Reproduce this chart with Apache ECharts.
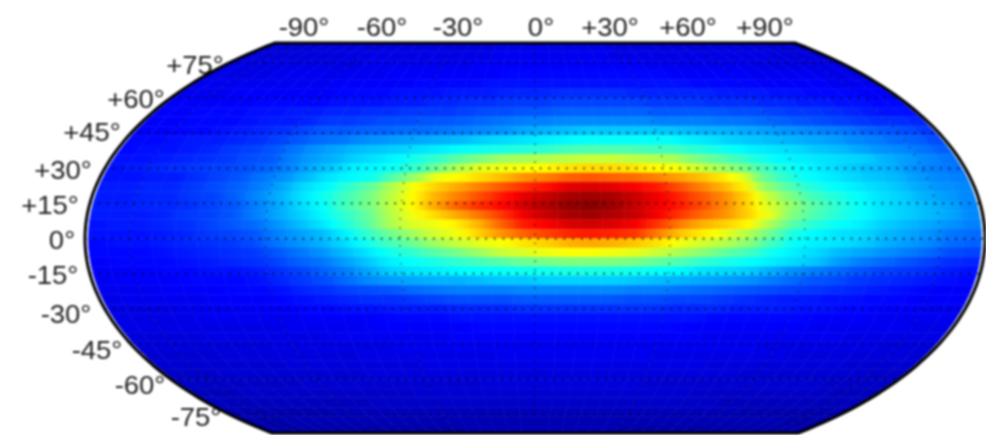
<!DOCTYPE html>
<html>
<head>
<meta charset="utf-8">
<script src="https://cdn.jsdelivr.net/npm/echarts@6/dist/echarts.min.js"></script>
<style>
html,body{margin:0;padding:0;background:#fff}
#c{width:986px;height:435px;filter:blur(0.8px)}
</style>
</head>
<body>
<div id="c"></div>
<script>
const longitudes = [-195,-185,-175,-165,-155,-145,-135,-125,-115,-105,-95,-85,-75,-65,-55,-45,-35,-25,-15,-5,5,15,25,35,45,55,65,75,85,95,105,115,125,135,145,155,165,175,185,195];
const latitudes = [82,78,74,70,66,62,58,54,50,46,42,38,34,30,26,22,18,14,10,6,2,-2,-6,-10,-14,-18,-22,-26,-30,-34,-38,-42,-46,-50,-54,-58,-62,-66,-70,-74,-78,-82];
const n82 = [8,8,8,8,9,9,9,9,9,9,9,9,9,9,9,9,9,10,10,10,10,10,10,10,10,10,9,9,9,9,9,9,9,9,9,9,9,9,8,8];
const n78 = [9,9,9,9,9,9,9,10,10,10,10,10,10,10,10,10,10,11,11,11,11,11,11,11,11,10,10,10,10,10,10,10,10,10,10,10,9,9,9,9];
const n74 = [10,10,10,10,10,10,10,10,10,11,11,11,11,11,11,11,12,12,12,12,12,12,12,12,12,12,12,11,11,11,11,11,11,11,10,10,10,10,10,10];
const n70 = [10,10,10,10,11,11,11,11,11,11,11,12,12,12,12,12,12,12,13,13,13,13,13,13,13,13,13,13,12,12,12,12,12,11,11,11,11,11,10,10];
const n66 = [11,11,11,11,11,11,11,11,12,12,12,12,12,13,13,13,13,14,14,14,14,14,14,14,14,14,14,14,14,13,13,13,13,12,12,12,12,11,11,11];
const n62 = [11,11,11,12,12,12,12,12,12,13,13,13,14,14,14,15,15,15,16,16,16,17,17,17,17,16,16,16,16,16,15,15,15,14,14,13,13,13,12,12];
const n58 = [12,12,12,12,12,13,13,13,13,14,14,14,15,15,16,16,17,17,18,18,18,19,19,19,19,19,18,18,18,17,17,17,16,16,15,15,14,14,13,13];
const n54 = [12,12,13,13,13,14,14,15,15,16,16,17,17,18,18,18,19,20,20,21,21,22,22,22,22,22,21,21,21,21,20,20,19,18,18,17,16,15,14,14];
const n50 = [12,12,13,13,13,14,15,15,16,18,18,19,20,20,21,21,22,23,24,25,25,26,26,26,26,26,25,25,25,24,24,23,22,21,20,19,18,17,17,16];
const n46 = [12,12,13,13,14,15,16,17,19,21,21,22,22,23,23,24,25,26,27,29,30,31,32,32,32,32,32,31,30,30,29,28,27,26,25,24,22,21,20,18];
const n42 = [13,13,14,15,15,16,17,19,21,23,24,26,27,28,29,30,31,33,34,35,36,37,38,38,38,38,38,36,35,33,32,31,30,29,28,26,25,23,22,20];
const n38 = [13,14,14,15,16,18,19,21,24,27,29,31,32,33,35,36,38,39,40,41,42,44,45,45,45,44,44,42,40,38,36,35,34,32,31,29,27,26,24,22];
const n34 = [14,14,15,16,17,18,20,21,25,28,30,33,35,37,40,43,47,50,53,54,55,56,57,57,56,55,54,50,47,44,40,37,36,35,34,33,30,28,26,24];
const n30 = [14,15,16,17,18,19,20,22,25,29,32,36,37,39,43,49,55,60,61,62,63,65,66,66,65,63,62,58,54,50,45,40,37,35,33,31,30,27,25,24];
const n26 = [14,14,15,15,17,19,21,24,27,31,35,37,39,46,53,61,63,66,69,73,75,78,79,78,77,75,72,69,65,60,48,42,38,36,34,32,31,28,26,25];
const n22 = [15,15,16,16,18,20,22,25,29,34,37,42,47,55,62,67,71,75,79,83,86,90,91,90,88,85,80,75,70,64,52,46,41,38,36,34,32,29,27,26];
const n18 = [15,15,16,16,18,19,22,26,30,35,39,44,49,56,63,70,75,80,85,90,93,96,97,96,93,89,84,79,74,67,57,50,44,41,38,35,33,30,28,26];
const n14 = [15,15,16,16,17,19,21,25,29,34,38,44,49,56,63,71,78,83,87,92,95,98,99,97,93,89,85,80,74,67,59,52,46,42,38,35,33,31,29,26];
const n10 = [15,15,15,16,18,19,21,25,29,33,37,42,47,55,61,66,71,76,82,89,93,96,97,95,93,88,82,77,73,67,60,50,45,41,38,35,33,31,29,26];
const n6 = [14,15,15,16,17,19,21,23,27,31,35,40,46,54,59,61,64,70,78,85,88,91,92,91,88,82,75,70,67,63,54,46,41,38,36,33,31,29,27,25];
const n2 = [14,14,14,15,16,18,19,21,25,28,31,36,42,48,53,58,61,67,73,78,81,84,85,84,82,75,68,64,60,55,48,40,37,35,34,31,29,27,24,23];
const s2 = [13,14,14,15,16,17,18,20,24,27,30,34,39,44,48,53,57,60,62,65,67,70,71,70,68,65,61,58,55,51,44,38,36,35,33,30,28,26,23,22];
const s6 = [13,13,13,14,15,16,17,18,21,24,27,31,35,39,42,46,49,53,57,59,61,62,62,61,60,57,54,51,47,44,39,36,34,31,29,27,25,23,20,19];
const s10 = [12,13,13,13,14,15,16,17,19,22,24,28,32,36,38,40,42,44,46,48,49,50,50,50,49,47,45,42,40,38,36,34,32,28,25,23,21,19,17,16];
const s14 = [12,12,12,13,13,14,14,15,17,19,22,25,29,33,35,36,37,38,38,39,39,40,40,40,39,38,37,35,34,33,30,27,25,23,21,19,18,17,15,14];
const s18 = [11,12,12,12,13,13,13,14,16,18,20,23,26,28,29,30,30,31,32,32,33,33,33,33,32,31,30,29,28,27,25,23,21,20,18,17,16,15,14,13];
const s22 = [11,11,11,12,12,12,13,13,14,16,17,19,20,21,23,24,25,25,25,26,26,26,26,26,25,25,24,23,22,21,20,19,18,17,16,15,14,13,12,12];
const s26 = [10,11,11,11,11,12,12,12,13,14,15,16,17,17,18,19,20,20,20,21,21,21,21,21,20,20,19,19,18,17,16,15,15,14,14,13,13,12,12,12];
const s30 = [10,10,10,11,11,11,12,12,12,13,13,14,14,15,15,15,16,16,16,17,17,17,17,17,17,17,16,16,16,15,15,15,14,14,13,13,12,12,11,11];
const s34 = [10,10,10,10,11,11,11,11,11,12,12,12,12,13,13,13,14,14,14,14,14,14,14,14,14,14,14,14,13,13,13,13,13,12,12,12,11,11,11,11];
const s38 = [10,10,10,10,10,10,10,10,11,11,11,11,12,12,12,12,12,13,13,13,13,13,13,13,13,13,13,12,12,12,12,12,12,11,11,11,11,11,10,10];
const s42 = [9,9,9,9,10,10,10,10,10,10,11,11,11,11,11,11,12,12,12,12,12,12,12,12,12,12,12,12,11,11,11,11,11,11,11,10,10,10,10,10];
const s46 = [9,9,9,9,9,9,9,10,10,10,10,10,10,11,11,11,11,11,11,11,11,11,11,11,11,11,11,11,11,11,11,10,10,10,10,10,10,9,9,9];
const s50 = [8,8,8,8,9,9,9,9,9,9,9,10,10,10,10,10,10,10,11,11,11,11,11,11,11,11,10,10,10,10,10,10,10,9,9,9,9,9,9,8];
const s54 = [8,8,8,8,8,8,8,9,9,9,9,9,9,9,10,10,10,10,10,10,10,10,10,10,10,10,10,10,10,9,9,9,9,9,9,9,8,8,8,8];
const s58 = [7,7,7,8,8,8,8,8,8,8,8,9,9,9,9,9,9,9,9,9,9,9,9,9,9,9,9,9,9,9,9,8,8,8,8,8,8,8,7,7];
const s62 = [7,7,7,7,7,7,7,8,8,8,8,8,8,8,8,8,8,9,9,9,9,9,9,9,9,9,8,8,8,8,8,8,8,8,8,8,7,7,7,7];
const s66 = [6,6,6,7,7,7,7,7,7,7,7,7,7,8,8,8,8,8,8,8,8,8,8,8,8,8,8,8,8,7,7,7,7,7,7,7,7,6,6,6];
const s70 = [6,6,6,6,6,6,6,6,6,6,7,7,7,7,7,7,7,7,7,7,7,7,7,7,7,7,7,7,7,7,7,6,6,6,6,6,6,6,6,6];
const s74 = [5,5,5,5,5,5,5,6,6,6,6,6,6,6,6,6,6,6,6,6,6,6,6,6,6,6,6,6,6,6,6,6,6,5,5,5,5,5,5,5];
const s78 = [4,4,4,5,5,5,5,5,5,5,5,5,5,5,5,5,5,5,5,5,5,5,5,5,5,5,5,5,5,5,5,5,5,5,5,5,5,4,4,4];
const s82 = [4,4,4,4,4,4,4,4,4,4,4,4,4,4,4,5,5,5,5,5,5,5,5,5,5,5,4,4,4,4,4,4,4,4,4,4,4,4,4,4];
const rows = [n82,n78,n74,n70,n66,n62,n58,n54,n50,n46,n42,n38,n34,n30,n26,n22,n18,n14,n10,n6,n2,s2,s6,s10,s14,s18,s22,s26,s30,s34,s38,s42,s46,s50,s54,s58,s62,s66,s70,s74,s78,s82];
const meridians = [-180,-120,-60,0,60,120,180];
const parallels = [75,60,45,30,15,0,-15,-30,-45,-60,-75];
const topTicks = ['-90°','-60°','-30°','0°','+30°','+60°','+90°'];
const sideTicks = ['+75°','+60°','+45°','+30°','+15°','0°','-15°','-30°','-45°','-60°','-75°'];

const topPos = [[304,29],[382,29],[458,29],[541,29],[610,29],[688,29],[765,29]];
const sidePos = [[195,67],[136,101],[92,134],[63,172],[50,207],[62,242],[53,277],[66,316],[97,352],[140,387],[196,419]];
const jet = [[0,0,127],[0,0,255],[0,127,255],[0,255,255],[127,255,127],[255,255,0],[255,127,0],[255,0,0],[127,0,0]];
const LAT_TOP = 83.5, LAT_BOT = -83, LON_EDGE = 200;
const shrink = lat => Math.sqrt(1 - (lat / 102.3) * (lat / 102.3));
const clampLat = lat => Math.max(LAT_BOT, Math.min(LAT_TOP, lat));
const project = (lon, lat) => [lon * shrink(lat), lat];
const latRun = (a, b) => { const o = []; for (let la = a; la <= b; la += 1.5) o.push(la); o.push(b); return o; };
const jetColor = v => {
  const t = Math.max(0, Math.min(0.9999, v / 100)) * (jet.length - 1);
  const i = Math.floor(t), f = t - i;
  const c = jet[i].map((x, k) => Math.round(x + (jet[i + 1][k] - x) * f));
  return 'rgb(' + c.join(',') + ')';
};

const cells = [];
rows.forEach((r, i) => r.forEach((v, j) => cells.push([longitudes[j], latitudes[i], v, i, j])));

function renderCell(params, api) {
  const lon = api.value(0), lat = api.value(1), v = api.value(2), ri = api.value(3), ci = api.value(4);
  const a = clampLat(lat - 2), b = clampLat(lat + 2);
  const l = Math.max(lon - 5, -198.5), r = Math.min(lon + 5, 198.5);
  const pts = [project(l, a), project(r, a), project(r, b), project(l, b)].map(p => api.coord(p));
  const row = rows[ri];
  const vl = ci > 0 ? (v + row[ci - 1]) / 2 : v;
  const vr = ci < row.length - 1 ? (v + row[ci + 1]) / 2 : v;
  const fill = { type: 'linear', x: 0, y: 0, x2: 1, y2: 0, colorStops: [
    { offset: 0, color: jetColor(vl) }, { offset: 0.5, color: jetColor(v) }, { offset: 1, color: jetColor(vr) } ] };
  return { type: 'polygon', shape: { points: pts }, style: { fill: fill, stroke: fill, lineWidth: 0.6 } };
}
function renderGraticule(params, api) {
  const kind = api.value(0), val = api.value(1);
  const pts = kind === 0
    ? [project(-LON_EDGE, val), project(LON_EDGE, val)].map(p => api.coord(p))
    : latRun(LAT_BOT, LAT_TOP).map(la => api.coord(project(val, la)));
  return { type: 'polyline', shape: { points: pts }, style: { fill: 'none', stroke: '#000',
    lineWidth: kind === 0 ? 1.7 : 1.4, lineDash: kind === 0 ? [1.7, 7] : [1.4, 7.6], opacity: kind === 0 ? 0.85 : 0.65 } };
}
function renderOutline(params, api) {
  const up = latRun(LAT_BOT, LAT_TOP);
  const pts = up.map(la => api.coord(project(LON_EDGE, la))).concat(up.slice().reverse().map(la => api.coord(project(-LON_EDGE, la))));
  return { type: 'polygon', shape: { points: pts }, style: { fill: 'none', stroke: '#000', lineWidth: 3 } };
}

const labelFont = '25px "Liberation Sans", Arial, sans-serif';
const mkLabel = (t, p) => ({ type: 'text', x: p[0], y: p[1], scaleX: 1.1, z: 0,
  style: { text: t, font: labelFont, fill: '#222', textAlign: 'center', textVerticalAlign: 'middle' } });

const chart = echarts.init(document.getElementById('c'), null, { renderer: 'canvas' });
chart.setOption({
  animation: false,
  backgroundColor: '#fff',
  grid: { left: 85, top: 43, width: 900, height: 390 },
  xAxis: { type: 'value', min: -LON_EDGE, max: LON_EDGE, show: false },
  yAxis: { type: 'value', min: LAT_BOT, max: LAT_TOP, show: false },
  graphic: { elements: topTicks.map((t, i) => mkLabel(t, topPos[i])).concat(sideTicks.map((t, i) => mkLabel(t, sidePos[i]))) },
  series: [
    { type: 'custom', renderItem: renderCell, data: cells, clip: false, silent: true, z: 2, encode: { x: 0, y: 1 } },
    { type: 'custom', renderItem: renderGraticule, clip: false, silent: true, z: 3,
      data: parallels.map(v => [0, v]).concat(meridians.map(v => [1, v])), encode: { x: 1, y: 1 } },
    { type: 'custom', renderItem: renderOutline, clip: false, silent: true, z: 4, data: [[0, 0]], encode: { x: 0, y: 1 } }
  ]
});
</script>
</body>
</html>
